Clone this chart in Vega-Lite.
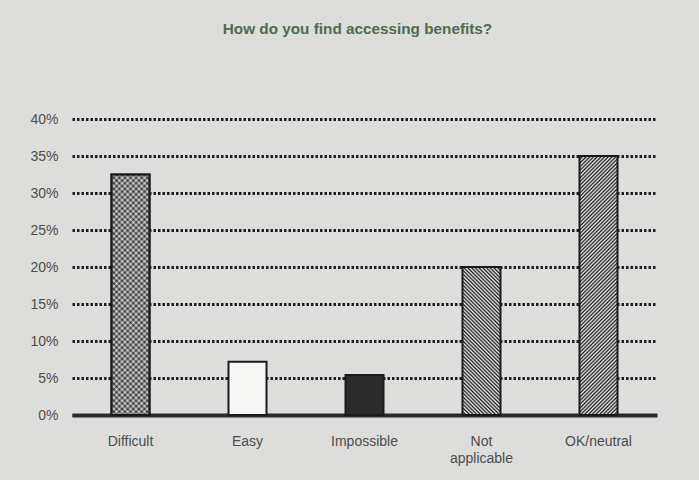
{
  "$schema": "https://vega.github.io/schema/vega-lite/v6.json",
  "width": 585,
  "height": 296,
  "autosize": {"type": "none"},
  "padding": {"left": 72, "top": 119, "right": 42, "bottom": 65},
  "background": "#dddddb",
  "title": {"text": "How do you find accessing benefits?", "font": "Liberation Sans", "fontSize": 15.3, "fontWeight": "bold", "color": "#4f6b50", "anchor": "middle", "offset": 75, "dx": -7},
  "config": {"view": {"stroke": null}, "font": "Liberation Sans"},
  "data": {"values": [
    {"answer": "Difficult", "pct": 32.5},
    {"answer": "Easy", "pct": 7.2},
    {"answer": "Impossible", "pct": 5.4},
    {"answer": "Not applicable", "pct": 20},
    {"answer": "OK/neutral", "pct": 35}
  ]},
  "encoding": {
    "x": {"field": "answer", "type": "nominal", "sort": ["Difficult", "Easy", "Impossible", "Not applicable", "OK/neutral"],
      "axis": {"title": null, "labelAngle": 0, "ticks": false, "domain": true, "domainWidth": 4, "domainColor": "#2b2b2b", "labelPadding": 19, "labelFontSize": 14, "labelColor": "#4d4d4d", "labelLineHeight": 17, "labelExpr": "datum.label == 'Not applicable' ? ['Not', 'applicable'] : datum.label"}},
    "y": {"field": "pct", "type": "quantitative", "scale": {"domain": [0, 40], "nice": false},
      "axis": {"title": null, "values": [0, 5, 10, 15, 20, 25, 30, 35, 40], "labelExpr": "datum.value + '%'", "domain": false, "ticks": false, "grid": true, "gridDash": [2.5, 2], "gridWidth": 3, "gridColor": "#1e1e1e", "labelPadding": 14, "labelFontSize": 14, "labelColor": "#4d4d4d"}}
  },
  "layer": [
    {
      "mark": {"type": "bar", "size": 38, "stroke": "#1a1a1a", "strokeWidth": 2},
      "encoding": {
        "fill": {
          "condition": [
            {"test": "datum.answer === 'Difficult'", "value": {"gradient": "linear", "x1": 0, "y1": 0, "x2": 0.1785, "y2": 1.1298, "stops": [
{"offset":0,"color":"#222"},{"offset":0.01,"color":"#e8e8e8"},{"offset":0.02,"color":"#222"},{"offset":0.03,"color":"#e8e8e8"},{"offset":0.04,"color":"#222"},{"offset":0.05,"color":"#e8e8e8"},{"offset":0.06,"color":"#222"},{"offset":0.07,"color":"#e8e8e8"},{"offset":0.08,"color":"#222"},{"offset":0.09,"color":"#e8e8e8"},
{"offset":0.1,"color":"#222"},{"offset":0.11,"color":"#e8e8e8"},{"offset":0.12,"color":"#222"},{"offset":0.13,"color":"#e8e8e8"},{"offset":0.14,"color":"#222"},{"offset":0.15,"color":"#e8e8e8"},{"offset":0.16,"color":"#222"},{"offset":0.17,"color":"#e8e8e8"},{"offset":0.18,"color":"#222"},{"offset":0.19,"color":"#e8e8e8"},
{"offset":0.2,"color":"#222"},{"offset":0.21,"color":"#e8e8e8"},{"offset":0.22,"color":"#222"},{"offset":0.23,"color":"#e8e8e8"},{"offset":0.24,"color":"#222"},{"offset":0.25,"color":"#e8e8e8"},{"offset":0.26,"color":"#222"},{"offset":0.27,"color":"#e8e8e8"},{"offset":0.28,"color":"#222"},{"offset":0.29,"color":"#e8e8e8"},
{"offset":0.3,"color":"#222"},{"offset":0.31,"color":"#e8e8e8"},{"offset":0.32,"color":"#222"},{"offset":0.33,"color":"#e8e8e8"},{"offset":0.34,"color":"#222"},{"offset":0.35,"color":"#e8e8e8"},{"offset":0.36,"color":"#222"},{"offset":0.37,"color":"#e8e8e8"},{"offset":0.38,"color":"#222"},{"offset":0.39,"color":"#e8e8e8"},
{"offset":0.4,"color":"#222"},{"offset":0.41,"color":"#e8e8e8"},{"offset":0.42,"color":"#222"},{"offset":0.43,"color":"#e8e8e8"},{"offset":0.44,"color":"#222"},{"offset":0.45,"color":"#e8e8e8"},{"offset":0.46,"color":"#222"},{"offset":0.47,"color":"#e8e8e8"},{"offset":0.48,"color":"#222"},{"offset":0.49,"color":"#e8e8e8"},
{"offset":0.5,"color":"#222"},{"offset":0.51,"color":"#e8e8e8"},{"offset":0.52,"color":"#222"},{"offset":0.53,"color":"#e8e8e8"},{"offset":0.54,"color":"#222"},{"offset":0.55,"color":"#e8e8e8"},{"offset":0.56,"color":"#222"},{"offset":0.57,"color":"#e8e8e8"},{"offset":0.58,"color":"#222"},{"offset":0.59,"color":"#e8e8e8"},
{"offset":0.6,"color":"#222"},{"offset":0.61,"color":"#e8e8e8"},{"offset":0.62,"color":"#222"},{"offset":0.63,"color":"#e8e8e8"},{"offset":0.64,"color":"#222"},{"offset":0.65,"color":"#e8e8e8"},{"offset":0.66,"color":"#222"},{"offset":0.67,"color":"#e8e8e8"},{"offset":0.68,"color":"#222"},{"offset":0.69,"color":"#e8e8e8"},
{"offset":0.7,"color":"#222"},{"offset":0.71,"color":"#e8e8e8"},{"offset":0.72,"color":"#222"},{"offset":0.73,"color":"#e8e8e8"},{"offset":0.74,"color":"#222"},{"offset":0.75,"color":"#e8e8e8"},{"offset":0.76,"color":"#222"},{"offset":0.77,"color":"#e8e8e8"},{"offset":0.78,"color":"#222"},{"offset":0.79,"color":"#e8e8e8"},
{"offset":0.8,"color":"#222"},{"offset":0.81,"color":"#e8e8e8"},{"offset":0.82,"color":"#222"},{"offset":0.83,"color":"#e8e8e8"},{"offset":0.84,"color":"#222"},{"offset":0.85,"color":"#e8e8e8"},{"offset":0.86,"color":"#222"},{"offset":0.87,"color":"#e8e8e8"},{"offset":0.88,"color":"#222"},{"offset":0.89,"color":"#e8e8e8"},
{"offset":0.9,"color":"#222"},{"offset":0.91,"color":"#e8e8e8"},{"offset":0.92,"color":"#222"},{"offset":0.93,"color":"#e8e8e8"},{"offset":0.94,"color":"#222"},{"offset":0.95,"color":"#e8e8e8"},{"offset":0.96,"color":"#222"},{"offset":0.97,"color":"#e8e8e8"},{"offset":0.98,"color":"#222"},{"offset":0.99,"color":"#e8e8e8"},
{"offset":1,"color":"#222"}]}},
            {"test": "datum.answer === 'Easy'", "value": "#f6f6f4"},
            {"test": "datum.answer === 'Impossible'", "value": "#2a2a2a"},
            {"test": "datum.answer === 'Not applicable'", "value": {"gradient": "linear", "x1": 0, "y1": 1, "x2": 0.3027, "y2": -0.179, "stops": [
{"offset":0,"color":"#222"},{"offset":0.01,"color":"#e8e8e8"},{"offset":0.02,"color":"#222"},{"offset":0.03,"color":"#e8e8e8"},{"offset":0.04,"color":"#222"},{"offset":0.05,"color":"#e8e8e8"},{"offset":0.06,"color":"#222"},{"offset":0.07,"color":"#e8e8e8"},{"offset":0.08,"color":"#222"},{"offset":0.09,"color":"#e8e8e8"},
{"offset":0.1,"color":"#222"},{"offset":0.11,"color":"#e8e8e8"},{"offset":0.12,"color":"#222"},{"offset":0.13,"color":"#e8e8e8"},{"offset":0.14,"color":"#222"},{"offset":0.15,"color":"#e8e8e8"},{"offset":0.16,"color":"#222"},{"offset":0.17,"color":"#e8e8e8"},{"offset":0.18,"color":"#222"},{"offset":0.19,"color":"#e8e8e8"},
{"offset":0.2,"color":"#222"},{"offset":0.21,"color":"#e8e8e8"},{"offset":0.22,"color":"#222"},{"offset":0.23,"color":"#e8e8e8"},{"offset":0.24,"color":"#222"},{"offset":0.25,"color":"#e8e8e8"},{"offset":0.26,"color":"#222"},{"offset":0.27,"color":"#e8e8e8"},{"offset":0.28,"color":"#222"},{"offset":0.29,"color":"#e8e8e8"},
{"offset":0.3,"color":"#222"},{"offset":0.31,"color":"#e8e8e8"},{"offset":0.32,"color":"#222"},{"offset":0.33,"color":"#e8e8e8"},{"offset":0.34,"color":"#222"},{"offset":0.35,"color":"#e8e8e8"},{"offset":0.36,"color":"#222"},{"offset":0.37,"color":"#e8e8e8"},{"offset":0.38,"color":"#222"},{"offset":0.39,"color":"#e8e8e8"},
{"offset":0.4,"color":"#222"},{"offset":0.41,"color":"#e8e8e8"},{"offset":0.42,"color":"#222"},{"offset":0.43,"color":"#e8e8e8"},{"offset":0.44,"color":"#222"},{"offset":0.45,"color":"#e8e8e8"},{"offset":0.46,"color":"#222"},{"offset":0.47,"color":"#e8e8e8"},{"offset":0.48,"color":"#222"},{"offset":0.49,"color":"#e8e8e8"},
{"offset":0.5,"color":"#222"},{"offset":0.51,"color":"#e8e8e8"},{"offset":0.52,"color":"#222"},{"offset":0.53,"color":"#e8e8e8"},{"offset":0.54,"color":"#222"},{"offset":0.55,"color":"#e8e8e8"},{"offset":0.56,"color":"#222"},{"offset":0.57,"color":"#e8e8e8"},{"offset":0.58,"color":"#222"},{"offset":0.59,"color":"#e8e8e8"},
{"offset":0.6,"color":"#222"},{"offset":0.61,"color":"#e8e8e8"},{"offset":0.62,"color":"#222"},{"offset":0.63,"color":"#e8e8e8"},{"offset":0.64,"color":"#222"},{"offset":0.65,"color":"#e8e8e8"},{"offset":0.66,"color":"#222"},{"offset":0.67,"color":"#e8e8e8"},{"offset":0.68,"color":"#222"},{"offset":0.69,"color":"#e8e8e8"},
{"offset":0.7,"color":"#222"},{"offset":0.71,"color":"#e8e8e8"},{"offset":0.72,"color":"#222"},{"offset":0.73,"color":"#e8e8e8"},{"offset":0.74,"color":"#222"},{"offset":0.75,"color":"#e8e8e8"},{"offset":0.76,"color":"#222"},{"offset":0.77,"color":"#e8e8e8"},{"offset":0.78,"color":"#222"},{"offset":0.79,"color":"#e8e8e8"},
{"offset":0.8,"color":"#222"},{"offset":0.81,"color":"#e8e8e8"},{"offset":0.82,"color":"#222"},{"offset":0.83,"color":"#e8e8e8"},{"offset":0.84,"color":"#222"},{"offset":0.85,"color":"#e8e8e8"},{"offset":0.86,"color":"#222"},{"offset":0.87,"color":"#e8e8e8"},{"offset":0.88,"color":"#222"},{"offset":0.89,"color":"#e8e8e8"},
{"offset":0.9,"color":"#222"},{"offset":0.91,"color":"#e8e8e8"},{"offset":0.92,"color":"#222"},{"offset":0.93,"color":"#e8e8e8"},{"offset":0.94,"color":"#222"},{"offset":0.95,"color":"#e8e8e8"},{"offset":0.96,"color":"#222"},{"offset":0.97,"color":"#e8e8e8"},{"offset":0.98,"color":"#222"},{"offset":0.99,"color":"#e8e8e8"},
{"offset":1,"color":"#222"}]}}
          ],
          "value": {"gradient": "linear", "x1": 0, "y1": 0, "x2": 0.1647, "y2": 1.1226, "stops": [
{"offset":0,"color":"#222"},{"offset":0.00625,"color":"#e8e8e8"},{"offset":0.0125,"color":"#222"},{"offset":0.01875,"color":"#e8e8e8"},{"offset":0.025,"color":"#222"},{"offset":0.03125,"color":"#e8e8e8"},{"offset":0.0375,"color":"#222"},{"offset":0.04375,"color":"#e8e8e8"},
{"offset":0.05,"color":"#222"},{"offset":0.05625,"color":"#e8e8e8"},{"offset":0.0625,"color":"#222"},{"offset":0.06875,"color":"#e8e8e8"},{"offset":0.075,"color":"#222"},{"offset":0.08125,"color":"#e8e8e8"},{"offset":0.0875,"color":"#222"},{"offset":0.09375,"color":"#e8e8e8"},
{"offset":0.1,"color":"#222"},{"offset":0.10625,"color":"#e8e8e8"},{"offset":0.1125,"color":"#222"},{"offset":0.11875,"color":"#e8e8e8"},{"offset":0.125,"color":"#222"},{"offset":0.13125,"color":"#e8e8e8"},{"offset":0.1375,"color":"#222"},{"offset":0.14375,"color":"#e8e8e8"},
{"offset":0.15,"color":"#222"},{"offset":0.15625,"color":"#e8e8e8"},{"offset":0.1625,"color":"#222"},{"offset":0.16875,"color":"#e8e8e8"},{"offset":0.175,"color":"#222"},{"offset":0.18125,"color":"#e8e8e8"},{"offset":0.1875,"color":"#222"},{"offset":0.19375,"color":"#e8e8e8"},
{"offset":0.2,"color":"#222"},{"offset":0.20625,"color":"#e8e8e8"},{"offset":0.2125,"color":"#222"},{"offset":0.21875,"color":"#e8e8e8"},{"offset":0.225,"color":"#222"},{"offset":0.23125,"color":"#e8e8e8"},{"offset":0.2375,"color":"#222"},{"offset":0.24375,"color":"#e8e8e8"},
{"offset":0.25,"color":"#222"},{"offset":0.25625,"color":"#e8e8e8"},{"offset":0.2625,"color":"#222"},{"offset":0.26875,"color":"#e8e8e8"},{"offset":0.275,"color":"#222"},{"offset":0.28125,"color":"#e8e8e8"},{"offset":0.2875,"color":"#222"},{"offset":0.29375,"color":"#e8e8e8"},
{"offset":0.3,"color":"#222"},{"offset":0.30625,"color":"#e8e8e8"},{"offset":0.3125,"color":"#222"},{"offset":0.31875,"color":"#e8e8e8"},{"offset":0.325,"color":"#222"},{"offset":0.33125,"color":"#e8e8e8"},{"offset":0.3375,"color":"#222"},{"offset":0.34375,"color":"#e8e8e8"},
{"offset":0.35,"color":"#222"},{"offset":0.35625,"color":"#e8e8e8"},{"offset":0.3625,"color":"#222"},{"offset":0.36875,"color":"#e8e8e8"},{"offset":0.375,"color":"#222"},{"offset":0.38125,"color":"#e8e8e8"},{"offset":0.3875,"color":"#222"},{"offset":0.39375,"color":"#e8e8e8"},
{"offset":0.4,"color":"#222"},{"offset":0.40625,"color":"#e8e8e8"},{"offset":0.4125,"color":"#222"},{"offset":0.41875,"color":"#e8e8e8"},{"offset":0.425,"color":"#222"},{"offset":0.43125,"color":"#e8e8e8"},{"offset":0.4375,"color":"#222"},{"offset":0.44375,"color":"#e8e8e8"},
{"offset":0.45,"color":"#222"},{"offset":0.45625,"color":"#e8e8e8"},{"offset":0.4625,"color":"#222"},{"offset":0.46875,"color":"#e8e8e8"},{"offset":0.475,"color":"#222"},{"offset":0.48125,"color":"#e8e8e8"},{"offset":0.4875,"color":"#222"},{"offset":0.49375,"color":"#e8e8e8"},
{"offset":0.5,"color":"#222"},{"offset":0.50625,"color":"#e8e8e8"},{"offset":0.5125,"color":"#222"},{"offset":0.51875,"color":"#e8e8e8"},{"offset":0.525,"color":"#222"},{"offset":0.53125,"color":"#e8e8e8"},{"offset":0.5375,"color":"#222"},{"offset":0.54375,"color":"#e8e8e8"},
{"offset":0.55,"color":"#222"},{"offset":0.55625,"color":"#e8e8e8"},{"offset":0.5625,"color":"#222"},{"offset":0.56875,"color":"#e8e8e8"},{"offset":0.575,"color":"#222"},{"offset":0.58125,"color":"#e8e8e8"},{"offset":0.5875,"color":"#222"},{"offset":0.59375,"color":"#e8e8e8"},
{"offset":0.6,"color":"#222"},{"offset":0.60625,"color":"#e8e8e8"},{"offset":0.6125,"color":"#222"},{"offset":0.61875,"color":"#e8e8e8"},{"offset":0.625,"color":"#222"},{"offset":0.63125,"color":"#e8e8e8"},{"offset":0.6375,"color":"#222"},{"offset":0.64375,"color":"#e8e8e8"},
{"offset":0.65,"color":"#222"},{"offset":0.65625,"color":"#e8e8e8"},{"offset":0.6625,"color":"#222"},{"offset":0.66875,"color":"#e8e8e8"},{"offset":0.675,"color":"#222"},{"offset":0.68125,"color":"#e8e8e8"},{"offset":0.6875,"color":"#222"},{"offset":0.69375,"color":"#e8e8e8"},
{"offset":0.7,"color":"#222"},{"offset":0.70625,"color":"#e8e8e8"},{"offset":0.7125,"color":"#222"},{"offset":0.71875,"color":"#e8e8e8"},{"offset":0.725,"color":"#222"},{"offset":0.73125,"color":"#e8e8e8"},{"offset":0.7375,"color":"#222"},{"offset":0.74375,"color":"#e8e8e8"},
{"offset":0.75,"color":"#222"},{"offset":0.75625,"color":"#e8e8e8"},{"offset":0.7625,"color":"#222"},{"offset":0.76875,"color":"#e8e8e8"},{"offset":0.775,"color":"#222"},{"offset":0.78125,"color":"#e8e8e8"},{"offset":0.7875,"color":"#222"},{"offset":0.79375,"color":"#e8e8e8"},
{"offset":0.8,"color":"#222"},{"offset":0.80625,"color":"#e8e8e8"},{"offset":0.8125,"color":"#222"},{"offset":0.81875,"color":"#e8e8e8"},{"offset":0.825,"color":"#222"},{"offset":0.83125,"color":"#e8e8e8"},{"offset":0.8375,"color":"#222"},{"offset":0.84375,"color":"#e8e8e8"},
{"offset":0.85,"color":"#222"},{"offset":0.85625,"color":"#e8e8e8"},{"offset":0.8625,"color":"#222"},{"offset":0.86875,"color":"#e8e8e8"},{"offset":0.875,"color":"#222"},{"offset":0.88125,"color":"#e8e8e8"},{"offset":0.8875,"color":"#222"},{"offset":0.89375,"color":"#e8e8e8"},
{"offset":0.9,"color":"#222"},{"offset":0.90625,"color":"#e8e8e8"},{"offset":0.9125,"color":"#222"},{"offset":0.91875,"color":"#e8e8e8"},{"offset":0.925,"color":"#222"},{"offset":0.93125,"color":"#e8e8e8"},{"offset":0.9375,"color":"#222"},{"offset":0.94375,"color":"#e8e8e8"},
{"offset":0.95,"color":"#222"},{"offset":0.95625,"color":"#e8e8e8"},{"offset":0.9625,"color":"#222"},{"offset":0.96875,"color":"#e8e8e8"},{"offset":0.975,"color":"#222"},{"offset":0.98125,"color":"#e8e8e8"},{"offset":0.9875,"color":"#222"},{"offset":0.99375,"color":"#e8e8e8"},
{"offset":1,"color":"#222"}]}
        }
      }
    },
    {
      "transform": [{"filter": "datum.answer === 'Difficult'"}],
      "mark": {"type": "bar", "size": 38, "stroke": "#1a1a1a", "strokeWidth": 2, "fillOpacity": 0.5,
        "fill": {"gradient": "linear", "x1": 0, "y1": 1, "x2": 0.1785, "y2": -0.1298, "stops": [
{"offset":0,"color":"#222"},{"offset":0.01,"color":"#e8e8e8"},{"offset":0.02,"color":"#222"},{"offset":0.03,"color":"#e8e8e8"},{"offset":0.04,"color":"#222"},{"offset":0.05,"color":"#e8e8e8"},{"offset":0.06,"color":"#222"},{"offset":0.07,"color":"#e8e8e8"},{"offset":0.08,"color":"#222"},{"offset":0.09,"color":"#e8e8e8"},
{"offset":0.1,"color":"#222"},{"offset":0.11,"color":"#e8e8e8"},{"offset":0.12,"color":"#222"},{"offset":0.13,"color":"#e8e8e8"},{"offset":0.14,"color":"#222"},{"offset":0.15,"color":"#e8e8e8"},{"offset":0.16,"color":"#222"},{"offset":0.17,"color":"#e8e8e8"},{"offset":0.18,"color":"#222"},{"offset":0.19,"color":"#e8e8e8"},
{"offset":0.2,"color":"#222"},{"offset":0.21,"color":"#e8e8e8"},{"offset":0.22,"color":"#222"},{"offset":0.23,"color":"#e8e8e8"},{"offset":0.24,"color":"#222"},{"offset":0.25,"color":"#e8e8e8"},{"offset":0.26,"color":"#222"},{"offset":0.27,"color":"#e8e8e8"},{"offset":0.28,"color":"#222"},{"offset":0.29,"color":"#e8e8e8"},
{"offset":0.3,"color":"#222"},{"offset":0.31,"color":"#e8e8e8"},{"offset":0.32,"color":"#222"},{"offset":0.33,"color":"#e8e8e8"},{"offset":0.34,"color":"#222"},{"offset":0.35,"color":"#e8e8e8"},{"offset":0.36,"color":"#222"},{"offset":0.37,"color":"#e8e8e8"},{"offset":0.38,"color":"#222"},{"offset":0.39,"color":"#e8e8e8"},
{"offset":0.4,"color":"#222"},{"offset":0.41,"color":"#e8e8e8"},{"offset":0.42,"color":"#222"},{"offset":0.43,"color":"#e8e8e8"},{"offset":0.44,"color":"#222"},{"offset":0.45,"color":"#e8e8e8"},{"offset":0.46,"color":"#222"},{"offset":0.47,"color":"#e8e8e8"},{"offset":0.48,"color":"#222"},{"offset":0.49,"color":"#e8e8e8"},
{"offset":0.5,"color":"#222"},{"offset":0.51,"color":"#e8e8e8"},{"offset":0.52,"color":"#222"},{"offset":0.53,"color":"#e8e8e8"},{"offset":0.54,"color":"#222"},{"offset":0.55,"color":"#e8e8e8"},{"offset":0.56,"color":"#222"},{"offset":0.57,"color":"#e8e8e8"},{"offset":0.58,"color":"#222"},{"offset":0.59,"color":"#e8e8e8"},
{"offset":0.6,"color":"#222"},{"offset":0.61,"color":"#e8e8e8"},{"offset":0.62,"color":"#222"},{"offset":0.63,"color":"#e8e8e8"},{"offset":0.64,"color":"#222"},{"offset":0.65,"color":"#e8e8e8"},{"offset":0.66,"color":"#222"},{"offset":0.67,"color":"#e8e8e8"},{"offset":0.68,"color":"#222"},{"offset":0.69,"color":"#e8e8e8"},
{"offset":0.7,"color":"#222"},{"offset":0.71,"color":"#e8e8e8"},{"offset":0.72,"color":"#222"},{"offset":0.73,"color":"#e8e8e8"},{"offset":0.74,"color":"#222"},{"offset":0.75,"color":"#e8e8e8"},{"offset":0.76,"color":"#222"},{"offset":0.77,"color":"#e8e8e8"},{"offset":0.78,"color":"#222"},{"offset":0.79,"color":"#e8e8e8"},
{"offset":0.8,"color":"#222"},{"offset":0.81,"color":"#e8e8e8"},{"offset":0.82,"color":"#222"},{"offset":0.83,"color":"#e8e8e8"},{"offset":0.84,"color":"#222"},{"offset":0.85,"color":"#e8e8e8"},{"offset":0.86,"color":"#222"},{"offset":0.87,"color":"#e8e8e8"},{"offset":0.88,"color":"#222"},{"offset":0.89,"color":"#e8e8e8"},
{"offset":0.9,"color":"#222"},{"offset":0.91,"color":"#e8e8e8"},{"offset":0.92,"color":"#222"},{"offset":0.93,"color":"#e8e8e8"},{"offset":0.94,"color":"#222"},{"offset":0.95,"color":"#e8e8e8"},{"offset":0.96,"color":"#222"},{"offset":0.97,"color":"#e8e8e8"},{"offset":0.98,"color":"#222"},{"offset":0.99,"color":"#e8e8e8"},
{"offset":1,"color":"#222"}]}},
      "encoding": {}
    }
  ]
}
